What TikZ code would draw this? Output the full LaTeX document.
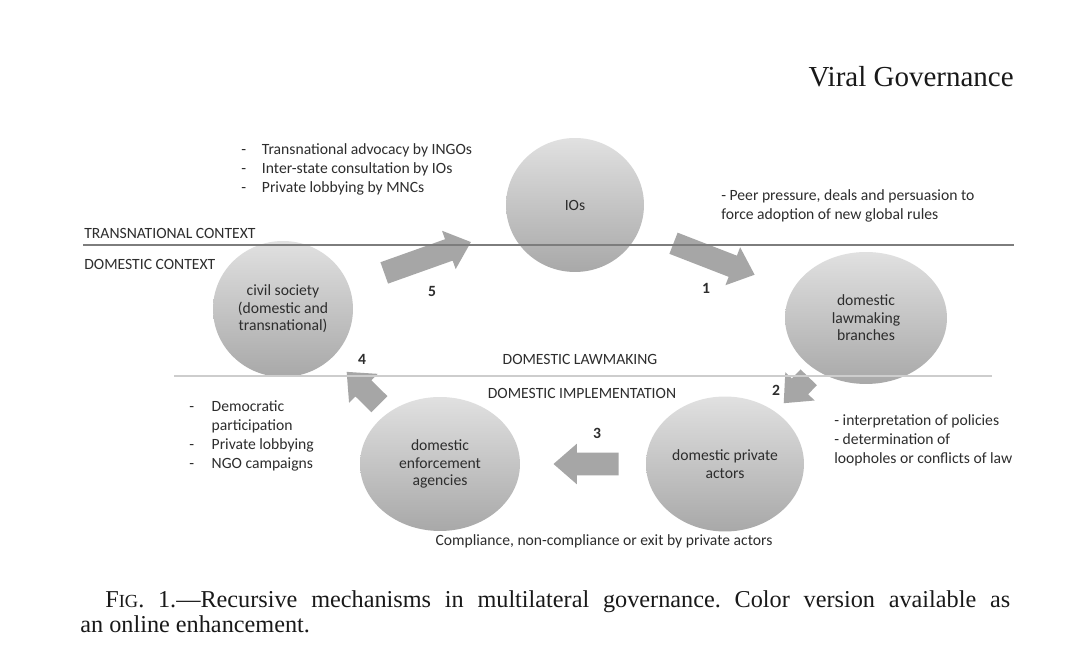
\documentclass[tikz,border=0pt]{standalone}
\usepackage{fontspec}
\setsansfont{Carlito}
\newfontfamily\capfont{Liberation Serif}
\usetikzlibrary{positioning, calc, shapes.geometric, shapes.arrows}
\definecolor{inkgray}{RGB}{45,45,45}
\definecolor{arrowgray}{RGB}{166,166,166}
\definecolor{ctxgray}{RGB}{125,125,125}
\definecolor{lvlgray}{RGB}{205,205,205}
\tikzset{
  every node/.style={font=\sffamily\fontsize{8.9}{10.8}\selectfont, text=inkgray},
  actor/.style={ellipse, inner sep=0pt, align=center, top color=black!12, bottom color=black!34, font=\sffamily\fontsize{8.9}{9.9}\selectfont},
  flow/.style={single arrow, fill=arrowgray, draw=none, inner xsep=0pt, inner ysep=0.22cm, minimum width=0.8cm,
    single arrow head extend=0.18cm, single arrow tip angle=82, sloped, allow upside down, anchor=tip},
  stepnum/.style={font=\sffamily\bfseries\fontsize{8.9}{10}\selectfont, inner sep=0pt},
  note/.style={inner sep=0pt, align=left},
  ctxlab/.style={inner sep=0pt, anchor=west},
  ctxrule/.style={draw=ctxgray, line width=0.6pt},
  lvlrule/.style={draw=lvlgray, line width=1.1pt},
  capline/.style={font=\capfont\fontsize{13.8}{16}\selectfont, text=black!90, inner sep=0pt},
}
\begin{document}
\frenchspacing
\begin{tikzpicture}[x=0.02cm, y=-0.02cm]
  \fill[white] (0,0) rectangle (1080,671);
  \useasboundingbox (0,0) rectangle (1080,671);

  % ---- running head --------------------------------------------------------
  \node[capline, font=\capfont\fontsize{16.5}{18}\selectfont, anchor=base east] (head) at (1014,87) {Viral Governance};

  % ---- actors --------------------------------------------------------------
  \node[actor, minimum width=2.76cm, minimum height=2.68cm] (ios)     at (575,205) {IOs};
  \node[actor, minimum width=2.80cm, minimum height=2.72cm] (civil)   at (283,309) {civil society\\(domestic and\\transnational)};
  \node[actor, minimum width=3.24cm, minimum height=2.64cm] (lawmk)   at (866,318) {domestic\\lawmaking\\branches};
  \node[actor, minimum width=3.16cm, minimum height=2.70cm] (privact) at (725,464) {domestic private\\actors};
  \node[actor, minimum width=3.20cm, minimum height=2.68cm] (enforce) at (440,464) {domestic\\enforcement\\agencies};

  % ---- block arrows of the cycle -------------------------------------------
  \foreach \a/\b/\s/\e/\len in {civil/ios/2.16/2.20/1.84, ios/lawmk/2.12/2.38/1.74, lawmk/privact/1.68/1.68/0.72,
                                privact/enforce/2.14/2.26/1.30, enforce/civil/1.72/1.78/0.92}
    \path ($(\a.center)!\s cm!(\b.center)$) -- node[flow, at end, minimum height=\len cm] {} ($(\b.center)!\e cm!(\a.center)$);

  \node[stepnum] (n1) at (706,288) {1};
  \node[stepnum] (n2) at (776,390) {2};
  \node[stepnum] (n3) at (597,433) {3};
  \node[stepnum] (n4) at (362,359) {4};
  \node[stepnum] (n5) at (432,291) {5};

  % ---- context rules and labels --------------------------------------------
  \draw[ctxrule] (83,245) -- (1014,245);
  \draw[lvlrule] (174,376) -- (992,376);
  \node[ctxlab] (trans) at (84,233) {TRANSNATIONAL CONTEXT};
  \node[ctxlab] (dom)   at (84,264) {DOMESTIC CONTEXT};
  \node[inner sep=0pt] (lawlab) at (580,359) {DOMESTIC LAWMAKING};
  \node[inner sep=0pt] (implab) at (582,393) {DOMESTIC IMPLEMENTATION};

  % ---- mechanism notes -----------------------------------------------------
  \node[note, anchor=west] (advoc) at (241,170)
    {\begin{tabular}{@{}l@{\hspace{9pt}}l@{}}-&Transnational advocacy by INGOs\\-&Inter-state consultation by IOs\\-&Private lobbying by MNCs\end{tabular}};
  \node[note, anchor=west] (peer) at (721,205.5)
    {- Peer pressure, deals and persuasion to\\force adoption of new global rules};
  \node[note, anchor=west] (interp) at (834,440)
    {- interpretation of policies\\- determination of\\loopholes or conflicts of law};
  \node[note, anchor=west] (partic) at (189,436)
    {\begin{tabular}{@{}l@{\hspace{10pt}}l@{}}-&Democratic\\&participation\\-&Private lobbying\\-&NGO campaigns\end{tabular}};
  \node[inner sep=0pt] (compl) at (604,541) {Compliance, non-compliance or exit by private actors};

  % ---- caption -------------------------------------------------------------
  \node[capline, anchor=base west] (cap1) at (105,608)
    {\makebox[515pt][s]{F{\fontsize{10.5}{12}\selectfont IG}. 1.—Recursive mechanisms in multilateral governance. Color version available as}};
  \node[capline, anchor=base west] (cap2) at (80,633) {an online enhancement.};
\end{tikzpicture}
\end{document}
